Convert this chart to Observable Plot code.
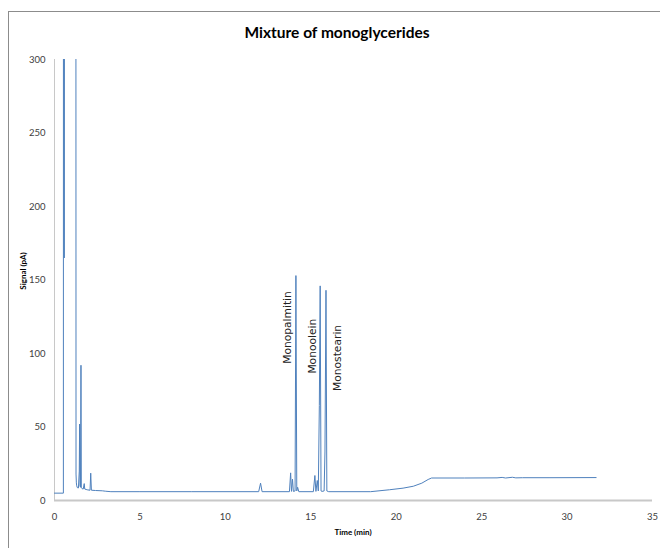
<!DOCTYPE html>
<html><head><meta charset="utf-8">
<script src="https://cdn.jsdelivr.net/npm/d3@7"></script>
<script src="https://cdn.jsdelivr.net/npm/@observablehq/plot@0.6"></script>
<style>
html,body{margin:0;padding:0;background:#fff;}
#wrap{position:relative;width:660px;height:548px;overflow:hidden;background:#fff;}
#frame{position:absolute;left:8px;top:11px;width:700px;height:600px;border-top:1px solid #8c8c8c;border-left:1px solid #8c8c8c;}
#chart{position:absolute;left:0;top:0;}
#title{position:absolute;left:337px;top:23px;transform:translateX(-50%);white-space:nowrap;font:bold 15.5px Lato,"Open Sans",sans-serif;color:#000;}
#ylab{position:absolute;left:23px;top:271px;transform:translate(-50%,-50%) rotate(-90deg);white-space:nowrap;font:bold 8px Lato,"Open Sans",sans-serif;color:#000;}
#xlab{position:absolute;left:353px;top:532px;transform:translate(-50%,-50%);white-space:nowrap;font:bold 8px Lato,"Open Sans",sans-serif;color:#000;}
</style>
</head><body>
<div id="wrap">
  <div id="frame"></div>
  <div id="chart"></div>
  <div id="title">Mixture of monoglycerides</div>
  <div id="ylab">Signal (pA)</div>
  <div id="xlab">Time (min)</div>
</div>
<script>
// Retention time (min) and detector signal (pA); values above 300 are off-scale
const time = [0, 0.50, 0.52, 0.53, 0.56, 0.57, 0.58, 1.24, 1.26, 1.28, 1.30, 1.33, 1.36, 1.40, 1.45, 1.47, 1.49, 1.52, 1.55, 1.57, 1.62, 1.68, 1.74, 1.77, 1.85, 1.95, 2.08, 2.12, 2.16, 2.4, 2.8, 3.0, 3.3, 5, 8, 11.95, 12.06, 12.15, 13.75, 13.82, 13.87, 13.93, 13.98, 14.08, 14.13, 14.18, 14.23, 14.3, 15.15, 15.24, 15.3, 15.38, 15.44, 15.5, 15.55, 15.6, 15.66, 15.78, 15.83, 15.89, 15.94, 16.05, 18.5, 19.6, 20.4, 21.0, 21.5, 21.87, 22.07, 24, 25.9, 26.2, 26.4, 26.8, 27.0, 27.4, 29, 31.7];
const signal = [5.0, 5.0, 5.0, 1000, 1000, 165, 1000, 1000, 18, 12, 10, 9, 8.5, 8.5, 20, 52, 10, 9, 92, 9, 8, 7.8, 11.5, 7.8, 7.5, 7.2, 7.0, 18.6, 7.0, 6.8, 6.6, 6.3, 6.0, 6.0, 6.0, 6.0, 11.8, 6.0, 6.0, 18.8, 6.2, 14.5, 6.2, 6.5, 153, 6.5, 9, 6.0, 6.0, 17, 6.2, 13.6, 6.5, 64.6, 146, 6.5, 6.2, 6.5, 33, 143, 6.5, 6.0, 6.0, 7.3, 8.4, 9.7, 11.8, 14.3, 15.3, 15.3, 15.4, 15.7, 15.3, 15.8, 15.4, 15.5, 15.5, 15.6];

const peakNames = ["Monopalmitin", "Monoolein", "Monostearin"];
const peakLabelTime = [13.63, 15.09, 16.55];
const peakLabelSignal = [117.7, 105, 97];

const xTicks = [0, 5, 10, 15, 20, 25, 30, 35];
const yTicks = [0, 50, 100, 150, 200, 250, 300];

const data = time.map((t, i) => ({t, s: signal[i]}));
const peaks = peakNames.map((name, i) => ({name, t: peakLabelTime[i], s: peakLabelSignal[i]}));

const chart = Plot.plot({
  width: 660, height: 548,
  marginLeft: 54, marginRight: 8, marginTop: 59, marginBottom: 48,
  x: {domain: [0, 35], ticks: xTicks, label: null, tickSize: 0, tickPadding: 13},
  y: {domain: [0, 300], ticks: yTicks, label: null, tickSize: 0, tickPadding: 9},
  style: {fontFamily: 'Lato,"Open Sans",sans-serif', fontSize: "9.5px", color: "#404040", background: "transparent"},
  marks: [
    Plot.ruleX([0], {stroke: "#c8c8c8", strokeWidth: 1}),
    Plot.line(data, {x: "t", y: "s", stroke: "#4f81bd", strokeWidth: 1, clip: true}),
    Plot.ruleY([0], {stroke: "#c8c8c8", strokeWidth: 2}),
    Plot.text(peaks, {x: "t", y: "s", text: "name", rotate: -90, fontSize: 10.7, fontFamily: '"DejaVu Sans",sans-serif', fill: "#222"})
  ]
});
document.getElementById("chart").appendChild(chart);
</script>
</body></html>
